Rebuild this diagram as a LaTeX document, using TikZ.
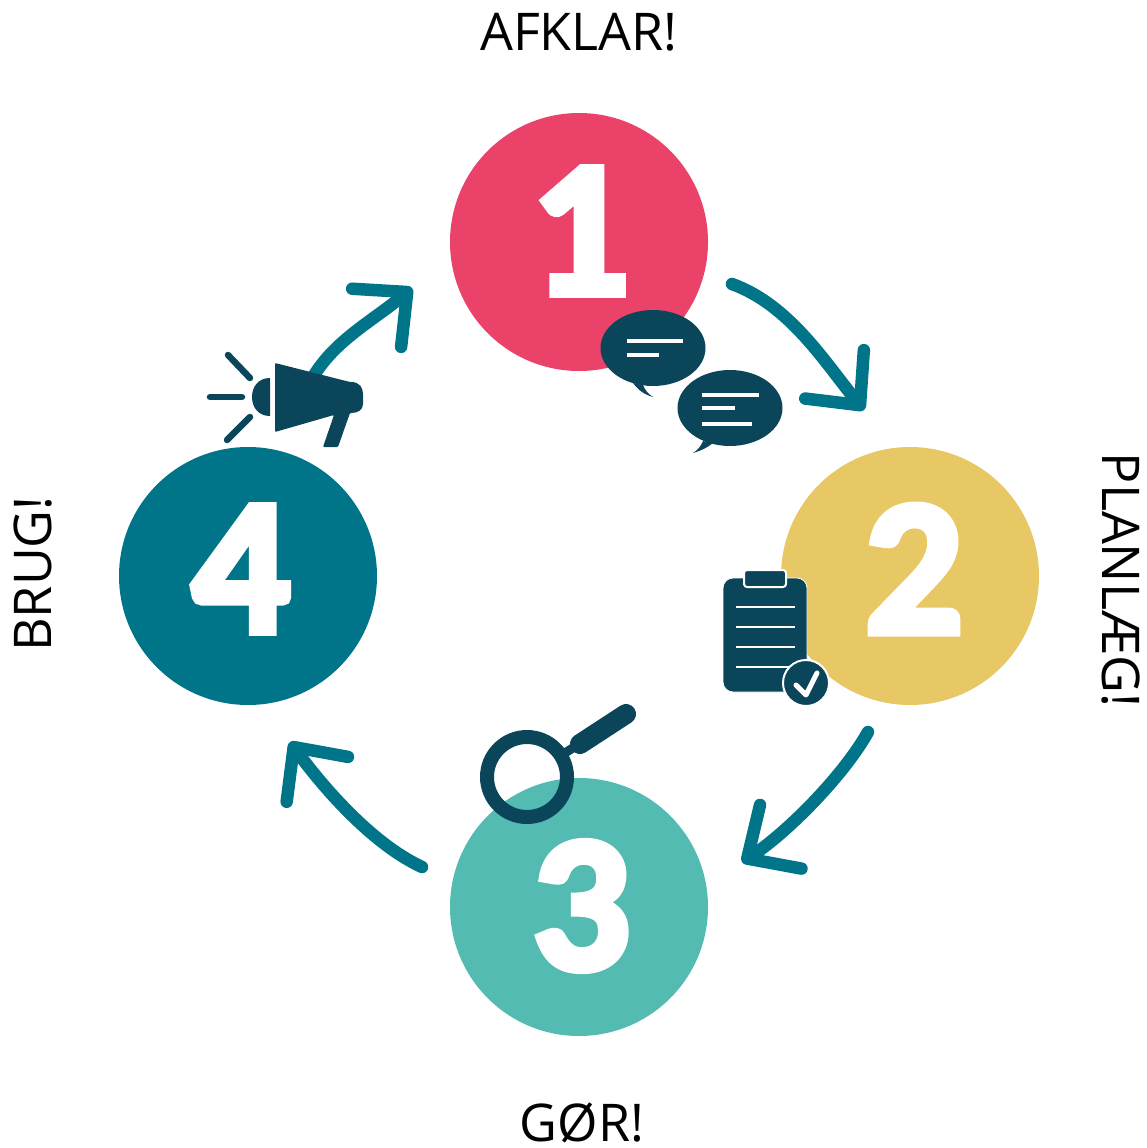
\documentclass[tikz,border=0pt]{standalone}
\usepackage{fontspec}
\setmainfont{Open Sans}
\newfontfamily\digitfont[UprightFont=*-Bold,FakeBold=4]{Carlito}
\usetikzlibrary{arrows.meta}
\definecolor{pinkfill}{HTML}{EA4269}
\definecolor{yellowfill}{HTML}{E8C864}
\definecolor{greenfill}{HTML}{54BBB3}
\definecolor{tealfill}{HTML}{00758A}
\definecolor{navyfill}{HTML}{0B4559}

\begin{document}
\begin{tikzpicture}
[x=1pt,y=-1pt,%
  phase/.style={shape=circle,inner sep=0pt,minimum size=258pt},%
  digit/.style={inner sep=0pt,text=white,font=\digitfont\fontsize{194}{194}\selectfont},%
  caption/.style={inner sep=0pt,text=black,font=\fontsize{52}{52}\selectfont},%
  flow/.style={draw=tealfill,line width=12.5pt,line cap=round,line join=round,
    -{Straight Barb[length=40pt,width=76pt,round]}},%
  whiteline/.style={draw=white,line width=4.5pt},%
  ray/.style={draw=navyfill,line width=6.5pt,line cap=round}]
\useasboundingbox (0,0) rectangle (1147,1148);

% phases
\node[phase,fill=pinkfill] (one) at (579,242) {};
\node[phase,fill=yellowfill] (two) at (910,576) {};
\node[phase,fill=greenfill] (three) at (579,907) {};
\node[phase,fill=tealfill] (four) at (248,576) {};
\node[digit] (onedigit) at (580,231) {1};
\node[digit] (twodigit) at (914,569) {2};
\node[digit] (threedigit) at (581,906) {3};
\node[digit] (fourdigit) at (241,569) {4};

% captions
\node[caption] (afklar) at (579,32) {AFKLAR!};
\node[caption,rotate=-90] (planlaeg) at (1121,580) {PLANLÆG!};
\node[caption] (goer) at (582,1123) {GØR!};
\node[caption,rotate=90] (brug) at (33,574) {BRUG!};

% arrows
\coordinate (startone) at (732,284);
\coordinate (endone) at (864,410);
\coordinate (starttwo) at (868,732);
\coordinate (endtwo) at (742,862);
\coordinate (startthree) at (422,867);
\coordinate (endthree) at (290,742);
\coordinate (startfour) at (313,377);
\coordinate (endfour) at (412,288);
\draw[flow] (startone) .. controls (790,305) and (826,364) .. (endone);
\draw[flow] (starttwo) .. controls (842,778) and (785,834) .. (endtwo);
\draw[flow] (startthree) .. controls (370,843) and (320,783) .. (endthree);
\draw[flow] (startfour) .. controls (335,340) and (374,320) .. (endfour);

% megaphone
\fill[navyfill,rounded corners=1pt] (275,363) -- (350,382)
  .. controls (360,382) and (363,388) .. (363,395) -- (363,403)
  .. controls (363,410) and (358,413) .. (350,413)
  -- (338,447) -- (323,447) -- (334,415) -- (275,432) -- cycle;
\fill[navyfill] (270,378) .. controls (258,378) and (252,387) .. (252,397)
  .. controls (252,407) and (258,416) .. (270,416) -- cycle;
\draw[ray] (228,355) -- (250,378);
\draw[ray] (210,397) -- (242,397);
\draw[ray] (227,440) -- (250,417);

% speech bubbles
\fill[navyfill] (633,383) .. controls (638,390) and (645,395) .. (653,397)
  .. controls (648,394) and (645,390) .. (643,385) -- cycle;
\fill[navyfill] (653,348) ellipse [x radius=52.5,y radius=38];
\draw[whiteline] (627,341) -- (683,341);
\draw[whiteline] (627,355) -- (659,355);
\fill[navyfill] (703,441) .. controls (701,446) and (698,450) .. (693,453)
  .. controls (700,451) and (707,448) .. (713,443) -- cycle;
\fill[navyfill] (730,408) ellipse [x radius=52.5,y radius=38];
\draw[whiteline] (702,395) -- (759,395);
\draw[whiteline] (702,408) -- (735,408);
\draw[whiteline] (702,424) -- (752,424);

% clipboard
\filldraw[fill=navyfill,draw=white,line width=0.8pt,rounded corners=10pt] (723,578) rectangle (807,692);
\filldraw[fill=navyfill,draw=white,line width=2pt,rounded corners=3pt] (744,570) rectangle (786,587);
\foreach \y in {607,627,647,667}
  \draw[draw=white,line width=2.5pt] (736,\y) -- (795,\y);
\filldraw[fill=navyfill,draw=white,line width=2pt] (806,683) circle (23);
\draw[draw=white,line width=5pt,line cap=round,line join=round] (796,685) -- (806,695) -- (817,673);

% magnifier
\draw[navyfill,line width=9pt] (565,753) -- (585,740);
\draw[navyfill,line width=20pt,line cap=round] (580,744) -- (626,714);
\draw[navyfill,line width=14pt] (527,777) circle (40);
\end{tikzpicture}
\end{document}
